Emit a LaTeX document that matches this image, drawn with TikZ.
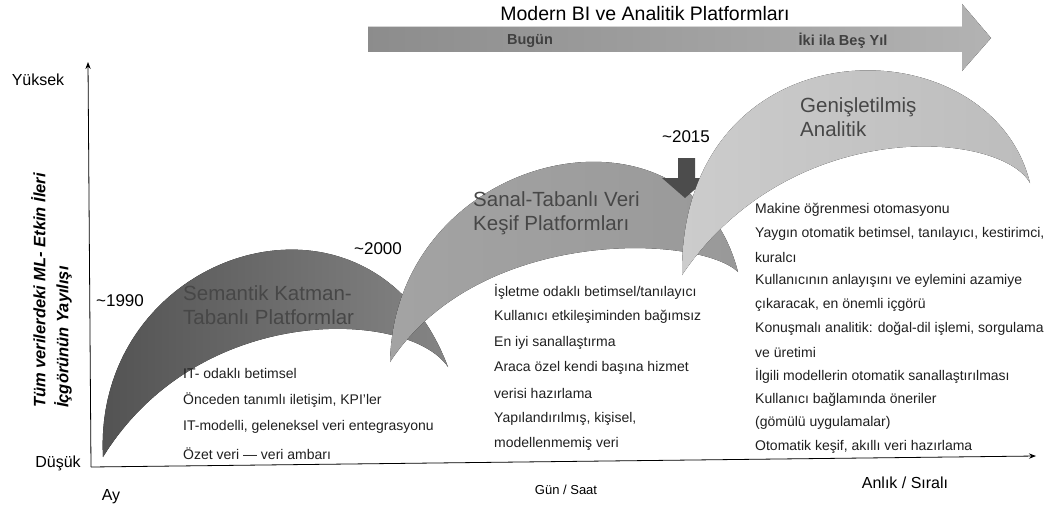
\documentclass[tikz,border=0pt]{standalone}
\usepackage{fontspec}
\setmainfont{Liberation Sans}
\usetikzlibrary{arrows.meta}

\begin{document}
\begin{tikzpicture}[x=1pt, y=-1pt,
  item/.style={anchor=west, inner sep=0pt, text=black!88, font=\fontsize{14}{16}\selectfont},
  year/.style={inner sep=0pt, font=\fontsize{17}{20}\selectfont},
  platform/.style={anchor=west, align=left, inner sep=0pt, text=black!72, font=\fontsize{20.5}{24.5}\selectfont},
  axislabel/.style={inner sep=0pt, font=\fontsize{16}{18}\selectfont},
  period/.style={inner sep=0pt, text=black!75, font=\bfseries\fontsize{14.5}{16}\selectfont}]

  \useasboundingbox (0, 0) rectangle (1051, 511);

  % timeline arrow on top
  \fill[left color=black!45, right color=black!30]
    (368, 27) -- (962, 27) -- (962, 4) -- (991, 38) -- (962, 71) -- (962, 52) -- (368, 52) -- cycle;
  \node[font=\fontsize{19.5}{22}\selectfont] (title) at (645, 14) {Modern BI ve Analitik Platformları};
  \node[period] (today) at (530, 41) {Bugün};
  \node[period] (later) at (843, 41) {İki ila Beş Yıl};

  % axes
  \coordinate (O) at (91, 467);
  \coordinate (ymax) at (88, 62);
  \coordinate (xmax) at (1036, 456);
  \draw[thick, -{Stealth[length=7pt]}] (O) -- (ymax);
  \draw[thick, -{Stealth[length=7pt]}] (O) -- (xmax);

  \node[axislabel] (high) at (38, 80) {Yüksek};
  \node[axislabel] (low) at (58, 463) {Düşük};
  \node[axislabel] (month) at (111, 497) {Ay};
  \node[inner sep=0pt, font=\fontsize{13}{15}\selectfont] (day) at (566, 490) {Gün / Saat};
  \node[axislabel] (instant) at (905, 483) {Anlık / Sıralı};
  \node[rotate=90, anchor=north west, align=left, inner sep=0pt,
    font=\bfseries\itshape\fontsize{16.5}{23}\selectfont] (ytitle) at (31, 408)
    {Tüm verilerdeki ML- Etkin İleri\\İçgörünün Yayılışı};

  % the three platform bands
  \fill[left color=black!68, right color=black!48]
    (103, 457) .. controls (92, 250) and (370, 160) .. (448, 367)
    .. controls (410, 310) and (200, 300) .. (103, 457) -- cycle;
  \fill[left color=black!36, right color=black!40]
    (390, 362) .. controls (395, 150) and (690, 85) .. (738, 272)
    .. controls (700, 235) and (480, 225) .. (390, 362) -- cycle;
  \fill[black!70]
    (678, 158) -- (695, 158) -- (695, 178) -- (708, 178) -- (685, 198) -- (662, 178) -- (678, 178) -- cycle;
  \fill[left color=black!20, right color=black!26]
    (682, 275) .. controls (680, 20) and (990, 20) .. (1030, 183)
    .. controls (1000, 130) and (790, 115) .. (682, 275) -- cycle;

  \node[year] (y1990) at (120, 301) {\textasciitilde1990};
  \node[year] (y2000) at (378, 249) {\textasciitilde2000};
  \node[year] (y2015) at (686, 137) {\textasciitilde2015};

  \node[platform] (semantic) at (183, 305) {Semantik Katman-\\Tabanlı Platformlar};
  \node[platform] (virtual) at (473, 213) {Sanal-Tabanlı Veri\\Keşif Platformları};
  \node[platform] (augmented) at (800, 117) {Genişletilmiş\\Analitik};

  % feature lists
  \foreach [count=\i] \t in {IT- odaklı betimsel, {Önceden tanımlı iletişim, KPI'ler},
      {IT-modelli, geleneksel veri entegrasyonu}, Özet veri — veri ambarı}
    \node[item] (semantic-\i) at (183, {373 + (\i - 1) * 27}) {\t};

  \foreach [count=\i] \t in {İşletme odaklı betimsel/tanılayıcı, Kullanıcı etkileşiminden bağımsız,
      En iyi sanallaştırma, Araca özel kendi başına hizmet, verisi hazırlama,
      {Yapılandırılmış, kişisel,}, modellenmemiş veri}
    \node[item] (virtual-\i) at (494, {292 + (\i - 1) * 25.3}) {\t};

  \foreach [count=\i] \t in {Makine öğrenmesi otomasyonu,
      {Yaygın otomatik betimsel, tanılayıcı, kestirimci,}, kuralcı,
      Kullanıcının anlayışını ve eylemini azamiye, {çıkaracak, en önemli içgörü},
      {Konuşmalı analitik: doğal-dil işlemi, sorgulama}, ve üretimi,
      İlgili modellerin otomatik sanallaştırılması, Kullanıcı bağlamında öneriler,
      (gömülü uygulamalar), {Otomatik keşif, akıllı veri hazırlama}}
    \node[item] (augmented-\i) at (755, {210 + (\i - 1) * 23.7}) {\t};

\end{tikzpicture}
\end{document}
